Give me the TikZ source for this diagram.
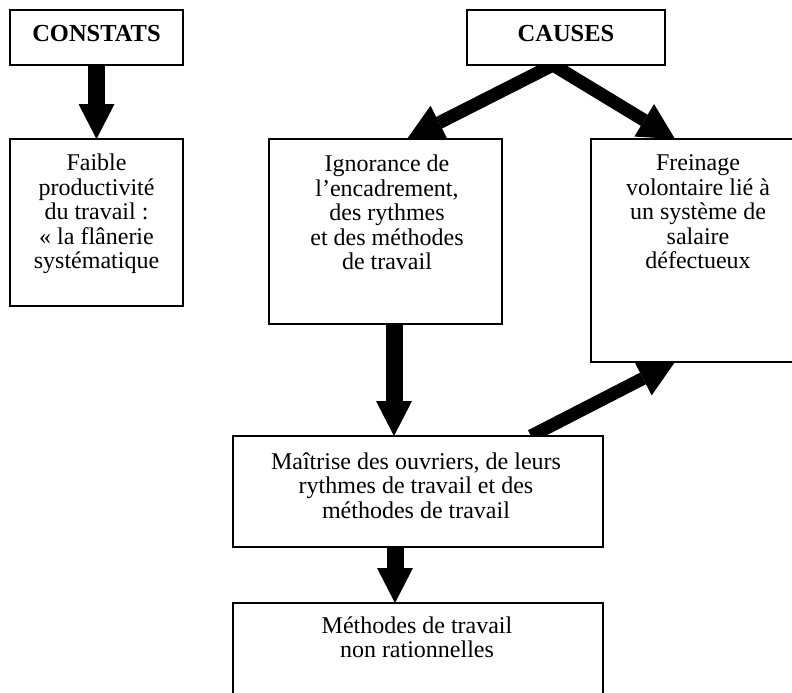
\documentclass[tikz,border=0pt]{standalone}
\usepackage{fontspec}
\setmainfont{Liberation Serif}
\usetikzlibrary{arrows.meta,calc,backgrounds}
\newcommand\tstrut{\rule{0pt}{18pt}}
\begin{document}
\begin{tikzpicture}[x=1pt,y=-1pt,
  box/.style={draw,line width=1.3pt,fill=white,inner sep=0pt,outer sep=0pt},
  txt/.style={inner sep=0pt,align=center,anchor=north,font=\fontsize{24}{24.4}\selectfont},
  head/.style={inner sep=0pt,anchor=base,font=\fontsize{24.5}{26}\selectfont\bfseries},
  vbig/.style={line width=17pt,-{Triangle[length=35pt,width=36pt,line width=0pt]}},
  dbig/.style={line width=13pt,-{Triangle[length=36pt,width=38pt,line width=0pt]}}]
\useasboundingbox (0,0) rectangle (792,693);
\clip (0,0) rectangle (792,693);
% boxes
\node[box,minimum width=173pt,minimum height=55pt] (constats) at (96.5,37.5) {};
\node[box,minimum width=173pt,minimum height=167pt] (faible) at (96.5,222.5) {};
\node[box,minimum width=198pt,minimum height=55pt] (causes) at (566,37.5) {};
\node[box,minimum width=233pt,minimum height=185pt] (ign) at (385.5,231.5) {};
\node[box,minimum width=214pt,minimum height=223pt] (frein) at (698,250.5) {};
\node[box,minimum width=370pt,minimum height=111pt] (maitrise) at (418,491.5) {};
\node[box,minimum width=370pt,minimum height=117pt] (methodes) at (418,661.5) {};
% texts
\node[head] (tconstats) at (96.5,41.7) {CONSTATS};
\node[head] (tcauses) at (566,41.7) {CAUSES};
\node[txt] (tfaible) at (96.5,152.7) {\tstrut Faible\\productivité\\du travail :\\« la flânerie\\systématique};
\node[txt] (tign) at (387,153.7) {\tstrut Ignorance de\\l’encadrement,\\des rythmes\\et des méthodes\\de travail};
\node[txt] (tfrein) at (698,152.7) {\tstrut Freinage\\volontaire lié à\\un système de\\salaire\\défectueux};
\node[txt] (tmait) at (416,451) {\tstrut Maîtrise des ouvriers, de leurs\\rythmes de travail et des\\méthodes de travail};
\node[txt] (tmeth) at (417,615) {\tstrut Méthodes de travail\\non rationnelles};
% arrows
\begin{pgfonlayer}{background}
\draw[vbig] (constats.south) -- (faible.north);
\draw[vbig] ($(ign.south)+(8.5,0)$) -- ($(maitrise.north)+(-24,0)$);
\draw[vbig] ($(maitrise.south)+(-23,0)$) -- ($(methodes.north)+(-23,0)$);
\draw[dbig] ($(causes.south)+(-13,0)$) -- ($(ign.north)+(21.5,0)$);
\draw[dbig] ($(causes.south)+(-13,0)$) -- ($(frein.north)+(-23,0)$);
\draw[dbig] ($(maitrise.north)+(113,0)$) -- ($(frein.south)+(-23,0)$);
\end{pgfonlayer}
\end{tikzpicture}
\end{document}
